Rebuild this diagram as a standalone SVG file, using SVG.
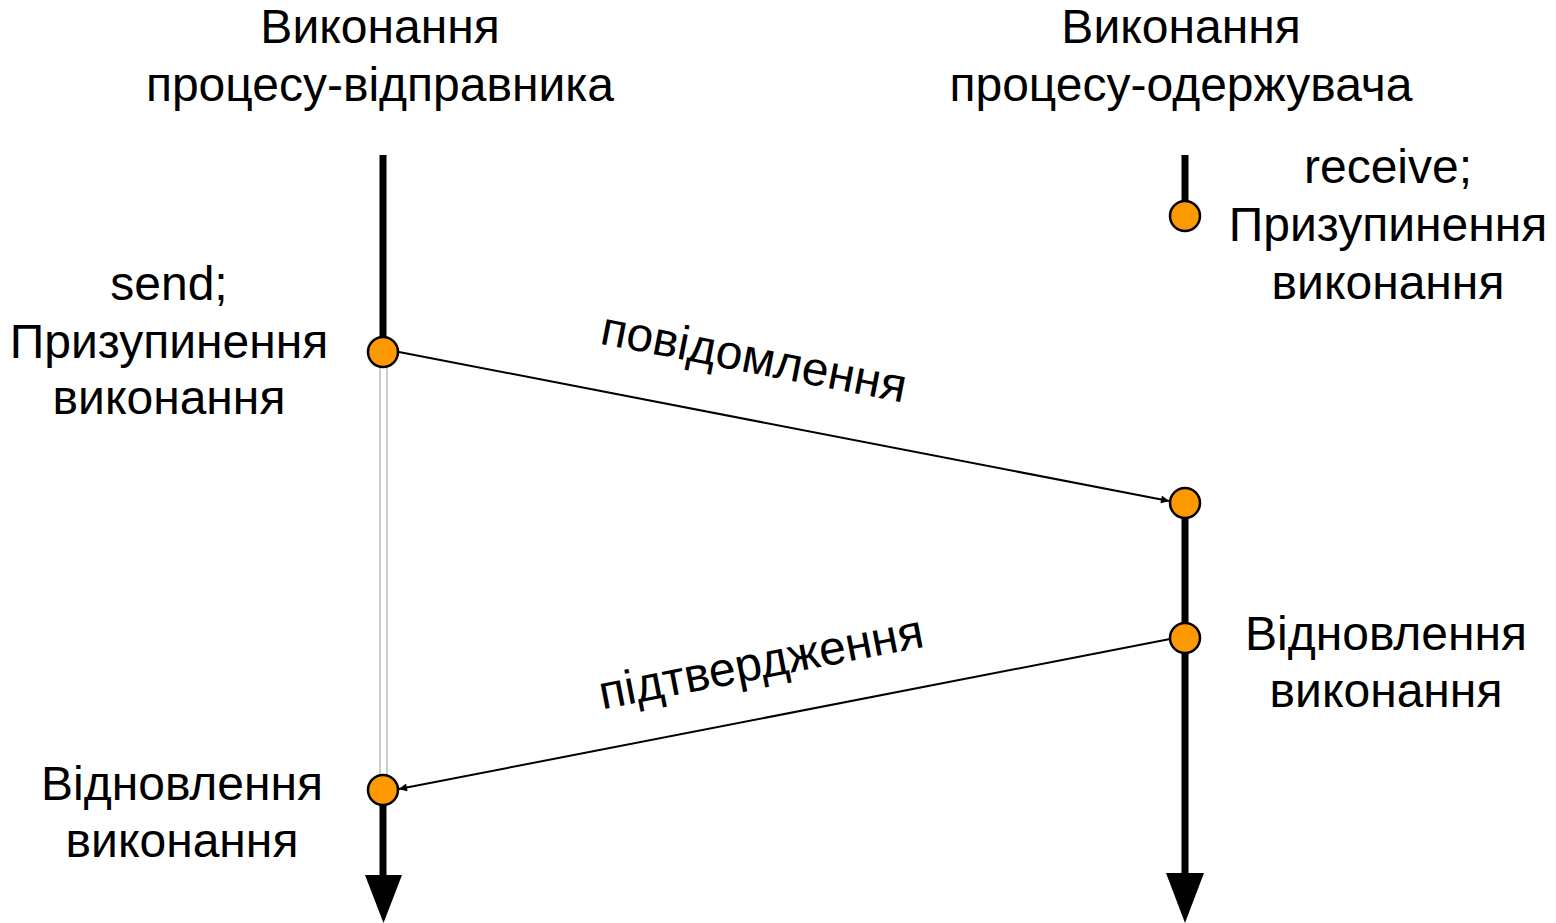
<svg xmlns="http://www.w3.org/2000/svg" width="1556" height="923" viewBox="0 0 1556 923">
<style>
text{font-family:"Liberation Sans",Arial,sans-serif;font-size:48px;fill:#000;text-anchor:middle}
.thick{stroke:#000;stroke-width:7;fill:none}
.gray{stroke:#bbb;stroke-width:1.5;fill:none}
.dot{fill:#ff9900;stroke:#000;stroke-width:2.5}
.msg{stroke:#000;stroke-width:2;fill:none;marker-end:url(#ah)}
</style>
<defs>
<marker id="ah" viewBox="0 0 10 10" refX="10" refY="5" markerWidth="10" markerHeight="8" markerUnits="userSpaceOnUse" orient="auto"><path d="M0,0 L10,5 L0,10 z" fill="#000"/></marker>
</defs>
<g id="sender">
<text x="380" y="43">Виконання</text>
<text x="380" y="101">процесу-відправника</text>
<line class="thick" x1="383" y1="155" x2="383" y2="340"/>
<line class="gray" x1="380" y1="365" x2="380" y2="777"/>
<line class="gray" x1="387" y1="365" x2="387" y2="777"/>
<line class="thick" x1="383" y1="805" x2="383" y2="876"/>
<path d="M365,875 L402,875 L383.5,923 z" fill="#000"/>
</g>
<g id="receiver">
<text x="1181" y="43">Виконання</text>
<text x="1181" y="101">процесу-одержувача</text>
<line class="thick" x1="1185" y1="155" x2="1185" y2="205"/>
<line class="thick" x1="1185" y1="515" x2="1185" y2="876"/>
<path d="M1166,873 L1204,873 L1185,923 z" fill="#000"/>
</g>
<g id="send">
<circle class="dot" cx="383" cy="352" r="15"/>
<text x="169" y="300">send;</text>
<text x="169" y="358">Призупинення</text>
<text x="169" y="414">виконання</text>
</g>
<g id="receive">
<circle class="dot" cx="1185" cy="216" r="15"/>
<text x="1388" y="183">receive;</text>
<text x="1388" y="241">Призупинення</text>
<text x="1388" y="299">виконання</text>
</g>
<g id="arrive">
<circle class="dot" cx="1185" cy="503" r="15"/>
</g>
<g id="resume-receiver">
<circle class="dot" cx="1185" cy="638" r="15"/>
<text x="1386" y="650">Відновлення</text>
<text x="1386" y="707">виконання</text>
</g>
<g id="resume-sender">
<circle class="dot" cx="383" cy="790" r="15"/>
<text x="182" y="800">Відновлення</text>
<text x="182" y="857">виконання</text>
</g>
<g id="connectors">
<line class="msg" x1="399" y1="352" x2="1169" y2="501"/>
<text x="751" y="373" transform="rotate(11 751 373)">повідомлення</text>
<line class="msg" x1="1170" y1="639" x2="399" y2="789"/>
<text x="764" y="678" transform="rotate(-11 764 678)">підтвердження</text>
</g>
</svg>
